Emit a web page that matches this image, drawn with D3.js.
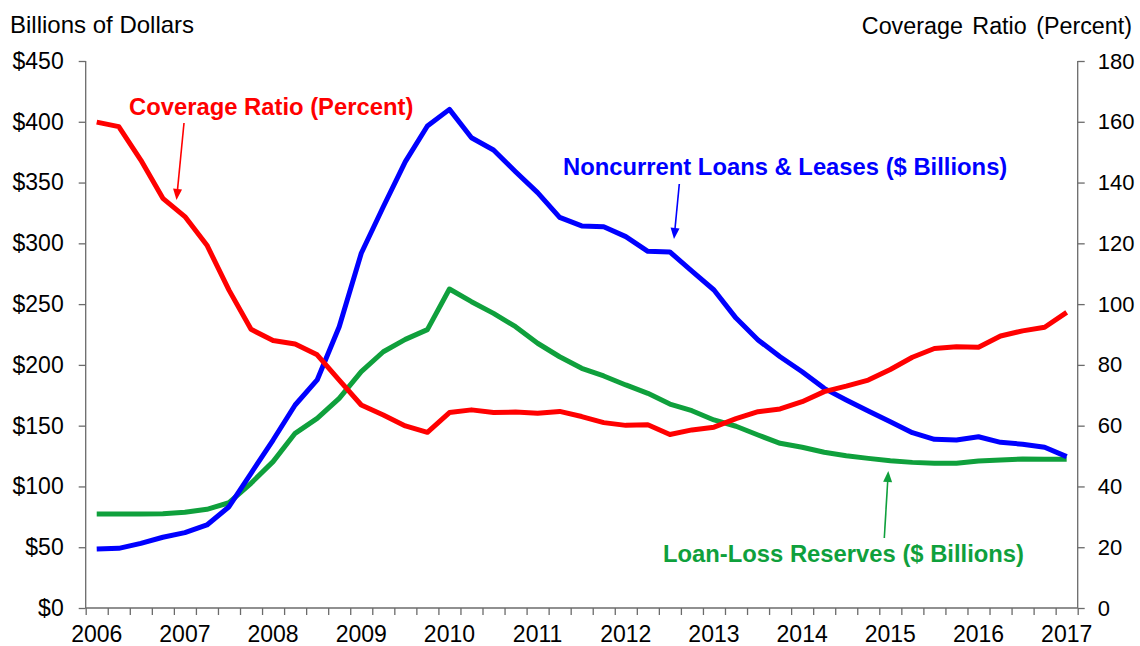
<!DOCTYPE html>
<html>
<head>
<meta charset="utf-8">
<script src="https://cdn.jsdelivr.net/npm/d3@7"></script>
<style>
  body { margin: 0; background: #fff; }
  svg { display: block; font-family: "Liberation Sans", Arial, sans-serif; }
</style>
</head>
<body>
<svg width="1140" height="646"></svg>
<script>
// quarterly, 2006 Q1 .. 2017 Q1
var years = [2006, 2007, 2008, 2009, 2010, 2011, 2012, 2013, 2014, 2015, 2016, 2017];
var quarters = [];
years.forEach(function (y) {
    for (var q = 1; q <= 4; q++) {
        if (y === 2017 && q > 1) { break; }
        quarters.push(y + "Q" + q);
    }
});

// $ billions
var noncurrent = [48.5, 49.1, 53.2, 58.2, 62.0, 68.3, 83.3, 110.8, 138.2, 167.0,
    187.6, 231.4, 291.8, 330.1, 367.2, 396.5, 410.2, 386.9, 376.8, 358.9,
    341.7, 321.4, 314.3, 313.7, 305.5, 293.4, 292.9, 277.2, 261.6, 238.5,
    220.5, 206.7, 194.4, 180.7, 171.1, 162.0, 153.3, 144.2, 138.8, 138.2,
    140.9, 136.3, 134.7, 132.2, 124.5];

var reserves = [77.3, 77.3, 77.3, 77.5, 78.7, 81.2, 86.6, 102.6, 120.4, 143.7,
    156.0, 172.5, 194.4, 210.8, 221.0, 229.0, 262.4, 252.0, 242.4, 231.4,
    217.8, 206.7, 197.2, 190.9, 183.5, 176.6, 167.8, 162.3, 154.7, 149.5,
    142.3, 135.5, 132.2, 128.1, 125.3, 123.1, 121.2, 119.8, 119.0, 119.0,
    120.9, 121.8, 122.6, 122.3, 122.3];

// percent
var coverage = [159.9, 158.4, 147.4, 134.8, 128.8, 119.4, 104.6, 91.7, 88.0, 86.9,
    83.3, 75.0, 66.8, 63.5, 59.9, 57.8, 64.3, 65.2, 64.3, 64.5,
    64.1, 64.7, 63.0, 61.0, 60.1, 60.3, 57.1, 58.6, 59.5, 62.3,
    64.6, 65.5, 67.9, 71.2, 73.0, 75.0, 78.5, 82.5, 85.4, 86.0,
    85.8, 89.5, 91.2, 92.4, 97.3];

var dollarTicks = [0, 50, 100, 150, 200, 250, 300, 350, 400, 450];
var pctTicks = [0, 20, 40, 60, 80, 100, 120, 140, 160, 180];

var svg = d3.select("svg"),
    margin = {top: 61, left: 85.7, right: 1140 - 1077.7, bottom: 646 - 608},
    width = 1140 - margin.left - margin.right,
    height = 646 - margin.top - margin.bottom,
    g = svg.append("g").attr("transform", "translate(" + margin.left + "," + margin.top + ")");

var axisColor = "#6b6b6b";

var scaleX = d3.scaleBand().domain(quarters).range([0, width]).padding(0),
    scaleEdge = d3.scaleLinear().domain([0, quarters.length]).range([0, width]),
    scaleY = d3.scaleLinear().domain([0, 450]).range([height, 0]),
    scaleY2 = d3.scaleLinear().domain([0, 180]).range([height, 0]);

function cx(i) {
    return scaleX(quarters[i]) + scaleX.bandwidth() / 2;
}

// axes
var axisL = g.append("g")
    .call(d3.axisLeft(scaleY).tickValues(dollarTicks).tickSize(7).tickPadding(15)
        .tickFormat(function (d) { return "$" + d; }));
var axisR = g.append("g").attr("transform", "translate(" + width + ",0)")
    .call(d3.axisRight(scaleY2).tickValues(pctTicks).tickSize(7).tickPadding(13));
var axisB = g.append("g").attr("transform", "translate(0," + height + ")")
    .call(d3.axisBottom(scaleEdge).tickValues(d3.range(quarters.length + 1)).tickSize(7).tickFormat(""));

[axisL, axisR, axisB].forEach(function (a) {
    a.select(".domain").attr("stroke", axisColor).attr("stroke-width", 1.3);
    a.selectAll(".tick line").attr("stroke", axisColor).attr("stroke-width", 1.3);
    a.selectAll("text").style("font-size", "22px").attr("fill", "#000");
});
axisL.selectAll("text").style("font-size", "23px");
axisL.select(".domain").attr("d", "M0," + height + "V0");
axisR.select(".domain").attr("d", "M0," + height + "V0");
axisB.select(".domain").attr("d", "M0,0H" + width);

// year labels
g.append("g").selectAll("text")
    .data(quarters.filter(function (q) { return /Q1$/.test(q); }))
    .enter().append("text")
    .attr("x", function (d) { return scaleX(d) + scaleX.bandwidth() / 2; })
    .attr("y", height + 34)
    .attr("text-anchor", "middle")
    .style("font-size", "23px")
    .text(function (d) { return d.slice(0, 4); });

// axis titles
svg.append("text").attr("x", 10).attr("y", 33)
    .style("font-size", "24px").text("Billions of Dollars");
svg.append("text").attr("x", 1132).attr("y", 34).attr("text-anchor", "end")
    .style("font-size", "23.3px").style("word-spacing", "3px").text("Coverage Ratio (Percent)");

// lines
var lineL = d3.line().x(function (d, i) { return cx(i); }).y(function (d) { return scaleY(d); });
var lineR = d3.line().x(function (d, i) { return cx(i); }).y(function (d) { return scaleY2(d); });

var series = [
    {values: reserves, line: lineL, color: "#0fa03c"},
    {values: noncurrent, line: lineL, color: "#0000ff"},
    {values: coverage, line: lineR, color: "#ff0000"}
];
g.selectAll(".series").data(series).enter().append("path")
    .attr("class", "series")
    .attr("fill", "none")
    .attr("stroke", function (d) { return d.color; })
    .attr("stroke-width", 5)
    .attr("stroke-linejoin", "round")
    .attr("d", function (d) { return d.line(d.values); });

// annotations
var notes = [
    {text: "Coverage Ratio (Percent)", x: 129, y: 115, color: "#ff0000",
        from: [184, 123], to: [176.5, 200]},
    {text: "Noncurrent Loans & Leases ($ Billions)", x: 563, y: 175, color: "#0000ff",
        from: [679.3, 184], to: [674, 239]},
    {text: "Loan-Loss Reserves ($ Billions)", x: 663, y: 562, color: "#0fa03c",
        from: [884.3, 538], to: [888.3, 471]}
];

notes.forEach(function (n) {
    svg.append("text").attr("x", n.x).attr("y", n.y)
        .attr("fill", n.color)
        .style("font-size", "23.8px").style("font-weight", "bold")
        .text(n.text);
    var dx = n.to[0] - n.from[0], dy = n.to[1] - n.from[1],
        len = Math.sqrt(dx * dx + dy * dy), ux = dx / len, uy = dy / len,
        headL = 11, headW = 4.5,
        bx = n.to[0] - ux * headL, by = n.to[1] - uy * headL;
    svg.append("line")
        .attr("x1", n.from[0]).attr("y1", n.from[1]).attr("x2", bx).attr("y2", by)
        .attr("stroke", n.color).attr("stroke-width", 1.6);
    svg.append("path")
        .attr("d", "M" + n.to[0] + "," + n.to[1] +
            "L" + (bx - uy * headW) + "," + (by + ux * headW) +
            "L" + (bx + uy * headW) + "," + (by - ux * headW) + "Z")
        .attr("fill", n.color);
});
</script>
</body>
</html>
